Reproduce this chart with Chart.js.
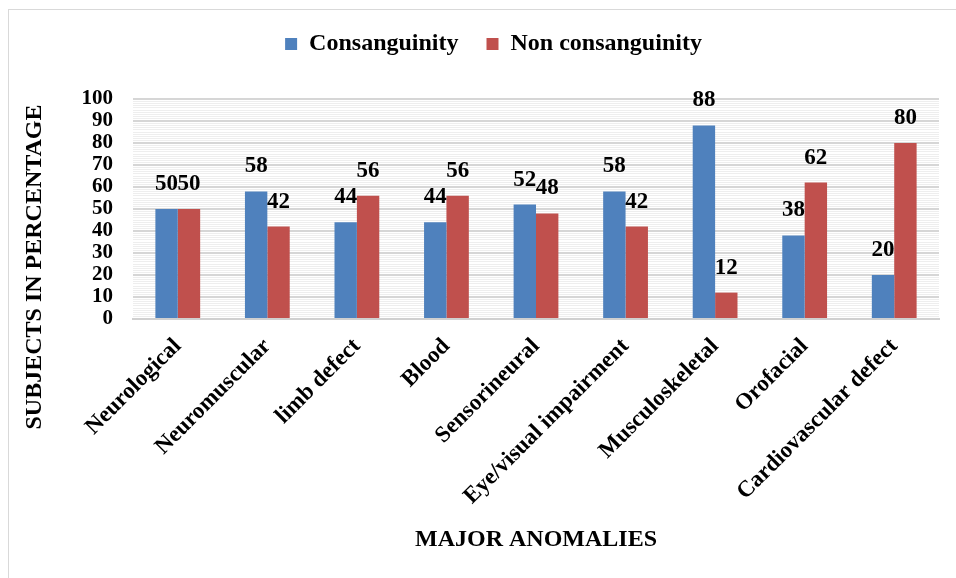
<!DOCTYPE html>
<html>
<head>
<meta charset="utf-8">
<script src="https://cdn.jsdelivr.net/npm/chart.js@4.4.1/dist/chart.umd.min.js"></script>
<style>
  html, body { margin: 0; padding: 0; background: #fff; }
  #wrap { position: relative; width: 956px; height: 578px; }
  #frame {
    position: absolute; left: 8px; top: 9px; right: 0; bottom: 0;
    border-top: 1px solid #d9d9d9; border-left: 1px solid #d9d9d9;
  }
  canvas { position: absolute; left: 0; top: 0; }
</style>
</head>
<body>
<div id="wrap">
  <div id="frame"></div>
  <canvas id="chart" width="956" height="578"></canvas>
</div>
<script>
/* ── Data ─────────────────────────────────────────────────────── */
const categories = [
  'Neurological', 'Neuromuscular', 'limb defect', 'Blood', 'Sensorineural',
  'Eye/visual impairment', 'Musculoskeletal', 'Orofacial', 'Cardiovascular defect',
];
const consanguinity    = [50, 58, 44, 44, 52, 58, 88, 38, 20];
const nonConsanguinity = [50, 42, 56, 56, 48, 42, 12, 62, 80];
const seriesNames = ['Consanguinity', 'Non consanguinity'];

const yMin = 0, yMax = 100, yMajorStep = 10, yMinorStep = 1;

const FONT = "'Liberation Serif', 'Times New Roman', serif";
const BLUE = '#4f81bd';
const RED  = '#c0504d';

/* Value labels above each bar */
const valueLabels = {
  id: 'valueLabels',
  afterDatasetsDraw(chart) {
    const ctx = chart.ctx;
    ctx.save();
    ctx.font = `bold 23px ${FONT}`;
    ctx.fillStyle = '#000';
    ctx.textAlign = 'center';
    ctx.textBaseline = 'middle';
    chart.data.datasets.forEach((ds, di) => {
      chart.getDatasetMeta(di).data.forEach((bar, i) => {
        ctx.fillText(String(ds.data[i]), bar.x, bar.y - 25);
      });
    });
    ctx.restore();
  },
};

/* Rotated y-axis title, sitting lower than the plot centre */
const yTitle = {
  id: 'yTitle',
  afterDraw(chart) {
    const ctx = chart.ctx;
    ctx.save();
    ctx.translate(35, 267);
    ctx.rotate(-Math.PI / 2);
    ctx.font = `bold 24px ${FONT}`;
    ctx.fillStyle = '#000';
    ctx.textAlign = 'center';
    ctx.textBaseline = 'middle';
    ctx.fillText('SUBJECTS IN PERCENTAGE', 0, 0);
    ctx.restore();
  },
};

/* Nudge the legend box: a little right and up from where the layout puts it */
const legendShift = {
  id: 'legendShift',
  afterLayout(chart) {
    const lg = chart.legend;
    if (!lg) return;
    const dx = 24, dy = -33;
    lg.left += dx; lg.right += dx;
    lg.top += dy;  lg.bottom += dy;
  },
};

new Chart(document.getElementById('chart'), {
  type: 'bar',
  data: {
    labels: categories,
    datasets: [
      { label: seriesNames[0], data: consanguinity,    backgroundColor: BLUE },
      { label: seriesNames[1], data: nonConsanguinity, backgroundColor: RED },
    ],
  },
  options: {
    responsive: false,
    animation: false,
    categoryPercentage: 0.5,
    barPercentage: 1.0,
    layout: { padding: { top: 37, right: 17, bottom: 20, left: 0 } },
    plugins: {
      legend: {
        position: 'top',
        labels: {
          color: '#000',
          font: { family: FONT, size: 24, weight: 'bold' },
          boxWidth: 12,
          boxHeight: 12,
          padding: 28,
        },
      },
      tooltip: { enabled: false },
    },
    scales: {
      x: {
        grid: { display: false },
        border: { color: '#d0d0d0', width: 2 },
        ticks: {
          color: '#000',
          font: { family: FONT, size: 23, weight: 'bold' },
          minRotation: 45,
          maxRotation: 45,
          autoSkip: false,
          padding: 6,
        },
        title: {
          display: true,
          text: 'MAJOR ANOMALIES',
          color: '#000',
          font: { family: FONT, size: 24, weight: 'bold' },
          padding: { top: 4, bottom: 4 },
        },
        afterFit: s => { s.height = 239; },
      },
      y: {
        min: yMin,
        max: yMax,
        border: { display: false },
        grid: {
          drawTicks: false,
          color: c => (c.tick.value % yMajorStep === 0 ? '#d6d6d6' : '#eeeeee'),
          lineWidth: c => (c.tick.value % yMajorStep === 0 ? 2 : 1),
        },
        ticks: {
          stepSize: yMinorStep,
          autoSkip: false,
          color: '#000',
          padding: 20,
          font: { family: FONT, size: 21, weight: 'bold' },
          callback: v => (v % yMajorStep === 0 ? v : ''),
        },
        afterFit: s => { s.width = 133; },
      },
    },
  },
  plugins: [valueLabels, yTitle, legendShift],
});
</script>
</body>
</html>
